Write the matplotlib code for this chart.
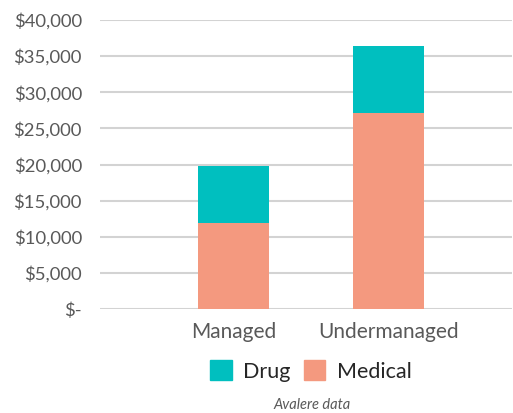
import matplotlib.pyplot as plt
from matplotlib.patches import Patch
from matplotlib.ticker import FuncFormatter

plt.rcParams['font.family'] = ['Lato', 'DejaVu Sans']

categories = ["Managed", "Undermanaged"]
medical = [11900, 27100]
drug = [7900, 9300]

teal = "#00BFBF"
salmon = "#F4997F"

fig = plt.figure(figsize=(5.13, 4.13), dpi=100)
ax = fig.add_axes([100 / 513, 104 / 413, 412 / 513, 289 / 413])

x = range(len(categories))
ax.bar(x, medical, width=0.46, color=salmon, zorder=3)
ax.bar(x, drug, width=0.46, bottom=medical, color=teal, zorder=3)

ax.set_ylim(0, 40000)
ax.set_xlim(-0.861, 1.797)
ax.set_yticks(range(0, 40001, 5000))
ax.yaxis.set_major_formatter(FuncFormatter(lambda v, p: "$-" if v == 0 else f"${v:,.0f}"))
ax.set_xticks(list(x))
ax.set_xticklabels(categories)

ax.grid(axis="y", color="#D3D3D3", linewidth=1.5, zorder=0)
for s in ax.spines.values():
    s.set_visible(False)
ax.tick_params(axis="y", length=0, pad=13, labelsize=13.3, labelcolor="#595959")
ax.tick_params(axis="x", length=0, pad=9, labelsize=15, labelcolor="#595959")

handles = [Patch(color=teal, label="Drug"), Patch(color=salmon, label="Medical")]
fig.legend(handles=handles, loc="center", bbox_to_anchor=(311 / 513, 42 / 413),
           ncol=2, frameon=False, fontsize=15.5, labelcolor="#262626",
           handlelength=1.0, handleheight=1.0, handletextpad=0.55, columnspacing=0.6)

fig.text(312 / 513, 8 / 413, "Avalere data", ha="center", va="center",
         fontsize=10.5, style="italic", color="#595959")

fig.savefig("out.png", dpi=100)
